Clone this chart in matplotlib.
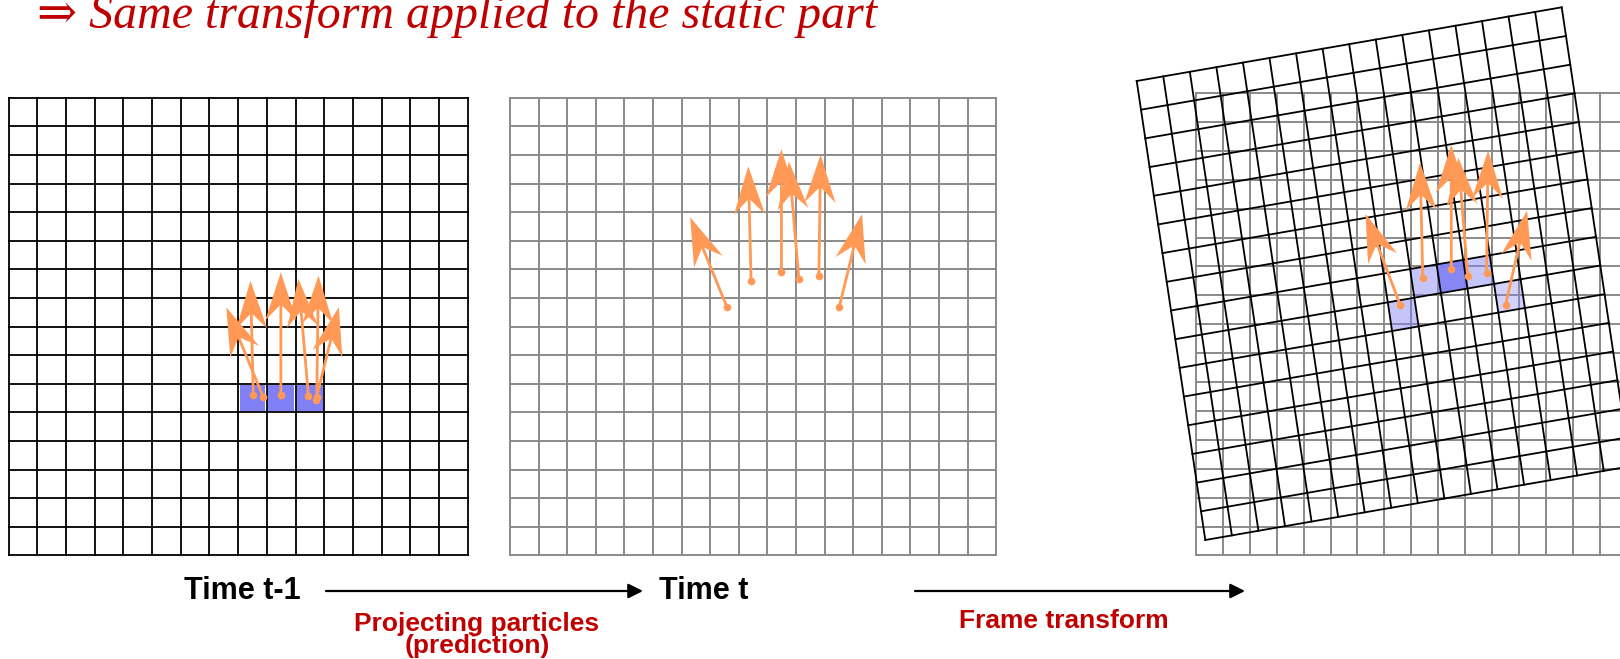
import matplotlib
matplotlib.use('Agg')
import matplotlib.pyplot as plt
from matplotlib.patches import Polygon, Rectangle
import numpy as np

# particles: tail positions at time t-1 (grid cell units) and velocities (cells per step)
px = [8.88, 8.53, 9.49, 10.45, 10.74, 10.71]
py = [10.48, 10.40, 10.40, 10.43, 10.45, 10.57]
vx = [-1.29, -0.10, 0.00, -0.35, 0.06, 0.80]
vy = [-3.15, -4.00, -4.30, -4.10, -4.23, -3.25]

# occupied cells at time t-1 (col, row)
occ_cells = [(8, 10), (9, 10), (10, 10)]
# occupied cells in the transformed frame (col, row, shade)
rot_cells = [(8, 9, 0.45), (9, 8, 0.45), (10, 8, 0.95), (11, 8, 0.45), (12, 9, 0.35)]

NCELL = 16
ORANGE = '#ff9955'
BLUE = '#8080f4'
RED = '#c00000'

fig = plt.figure(figsize=(16.2, 6.59), dpi=100)
ax = fig.add_axes([0, 0, 1, 1])
ax.set_xlim(0, 1620)
ax.set_ylim(659, 0)
ax.axis('off')


def grid(x0, y0, w, h, ncol, nrow, color, lw):
    for i in range(ncol + 1):
        ax.plot([x0 + i * w] * 2, [y0, y0 + nrow * h], color=color, lw=lw, zorder=2)
    for j in range(nrow + 1):
        ax.plot([x0, x0 + ncol * w], [y0 + j * h] * 2, color=color, lw=lw, zorder=2)


def particles(x0, y0, w, h, tx, ty):
    for i in range(len(tx)):
        sx = x0 + tx[i] * w
        sy = y0 + ty[i] * h
        ax.arrow(sx, sy, vx[i] * w, vy[i] * h, width=2.8, head_width=31,
                 head_length=48, overhang=0.3, length_includes_head=True,
                 color=ORANGE, lw=0, zorder=5)
        ax.plot(sx, sy, 'o', color=ORANGE, ms=4.5, zorder=5)


# --- time t-1
L = dict(x0=8.5, y0=97.7, w=28.7, h=28.6)
for c, r in occ_cells:
    ax.add_patch(Rectangle((L['x0'] + c * L['w'] + 1.5, L['y0'] + r * L['h'] + 1.5),
                           L['w'] - 3, L['h'] - 3, color=BLUE, lw=0, zorder=1))
grid(L['x0'], L['y0'], L['w'], L['h'], NCELL, NCELL, 'black', 1.3)
particles(L['x0'], L['y0'], L['w'], L['h'], px, py)

# --- time t (prediction)
tx = np.array(px) + np.array(vx)
ty = np.array(py) + np.array(vy)
M = dict(x0=510, y0=97.7, w=28.6, h=28.6)
grid(M['x0'], M['y0'], M['w'], M['h'], 17, NCELL, '#8a8a8a', 1.4)
particles(M['x0'], M['y0'], M['w'], M['h'], tx, ty)

# --- transformed frame
S = dict(x0=1196, y0=93, w=26.9, h=28.9)
grid(S['x0'], S['y0'], S['w'], S['h'], NCELL, NCELL, '#8a8a8a', 1.4)
tl = np.array([1136.7, 81.0])
tr = np.array([1561.7, 7.3])
bl = np.array([1205.3, 540.0])
u = (tr - tl) / NCELL
v = (bl - tl) / NCELL
for c, r, a in rot_cells:
    p = tl + c * u + r * v
    ax.add_patch(Polygon([p, p + u, p + u + v, p + v], closed=True,
                         facecolor=BLUE, alpha=a, lw=0, zorder=3))
for i in range(NCELL + 1):
    a0 = tl + i * u
    ax.plot([a0[0], (a0 + NCELL * v)[0]], [a0[1], (a0 + NCELL * v)[1]], color='black', lw=1.3, zorder=4)
    b0 = tl + i * v
    ax.plot([b0[0], (b0 + NCELL * u)[0]], [b0[1], (b0 + NCELL * u)[1]], color='black', lw=1.3, zorder=4)
particles(S['x0'], S['y0'], S['w'], S['h'], tx, ty)

# --- labels
ax.text(37, 28, '\u21d2 Same transform applied to the static part', color=RED,
        fontsize=34.5, family=['Liberation Serif', 'DejaVu Serif'], style='italic', va='baseline')
bold = dict(family='Liberation Sans', weight='bold')
ax.text(184, 591, 'Time t-1', fontsize=22, va='center', ha='left', **bold)
ax.text(659, 591, 'Time t', fontsize=22, va='center', ha='left', **bold)
arr = dict(arrowstyle='-|>', color='black', lw=1.6, mutation_scale=22, shrinkA=0, shrinkB=0)
ax.annotate('', xy=(643, 591), xytext=(326, 591), arrowprops=arr)
ax.annotate('', xy=(1245, 591), xytext=(915, 591), arrowprops=arr)
ax.text(477, 635, 'Projecting particles\n(prediction)', fontsize=19, color=RED, ha='center',
        va='center', linespacing=0.85, **bold)
ax.text(1064, 621, 'Frame transform', fontsize=19, color=RED, ha='center', va='center', **bold)

fig.savefig('out.png', dpi=100)
